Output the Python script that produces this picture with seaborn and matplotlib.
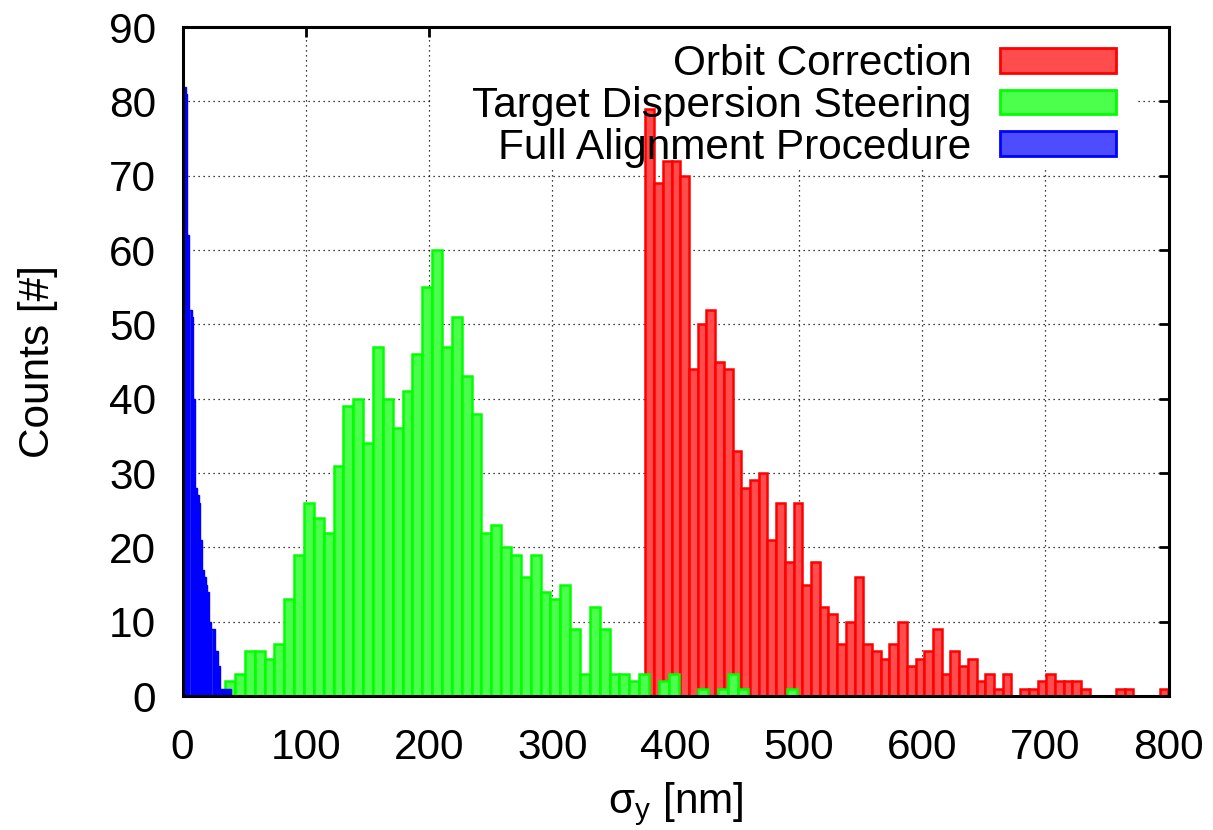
import numpy as np
import pandas as pd
import matplotlib
matplotlib.use("Agg")
import matplotlib.pyplot as plt
from matplotlib.patches import Patch, Rectangle
import seaborn as sns

# ---------------- data (bin counts) ----------------
series_labels = ["Orbit Correction", "Target Dispersion Steering", "Full Alignment Procedure"]

# Orbit Correction: 60 bins starting at 375.5 nm, width 7.07 nm
red_start, red_width = 375.5, 7.07
red_counts = [79, 69, 72, 72, 70, 44, 50, 52, 45, 44,
              33, 28, 29, 30, 21, 26, 18, 26, 15, 18,
              12, 11, 7, 10, 16, 7, 6, 5, 7, 10,
              4, 5, 6, 9, 3, 6, 4, 5, 2, 3,
              1, 3, 0, 1, 1, 2, 3, 2, 2, 2,
              1, 0, 0, 0, 1, 1, 0, 0, 0, 1]

# Target Dispersion Steering: bins of 8 nm starting at 34.5 nm
green_start, green_width = 34.5, 8.0
green_counts = [2, 3, 6, 6, 5, 7, 13, 19, 26, 24,
                22, 31, 39, 40, 34, 47, 40, 36, 41, 46,
                55, 60, 47, 51, 43, 38, 22, 23, 20, 19,
                16, 19, 14, 13, 15, 9, 3, 12, 9, 3,
                3, 2, 3, 0, 2, 3, 0, 0, 1, 0,
                1, 3, 1, 0, 0, 0, 0, 1]

# Full Alignment Procedure: narrow bins of 0.85 nm starting at 0.5 nm
blue_start, blue_width = 0.5, 0.85
blue_counts = [82, 82, 82, 81, 62, 62, 52, 52, 51, 40,
               40, 28, 28, 27, 27, 26, 21, 21, 17, 17,
               16, 16, 15, 14, 14, 10, 10, 9, 9, 9,
               6, 6, 6, 4, 4, 1, 1, 1, 1, 1,
               1, 1, 1, 1, 1, 1]

x_ticks = [0, 100, 200, 300, 400, 500, 600, 700, 800]
y_ticks = [0, 10, 20, 30, 40, 50, 60, 70, 80, 90]

face_colors = ["#FF4D4D", "#4DFF4D", "#4D4DFF"]
edge_colors = ["#FF0000", "#00FF00", "#0000FF"]

# ---------------- style ----------------
sns.set_theme(style="white")
plt.rcParams['font.family'] = ['Liberation Sans', 'DejaVu Sans']
plt.rcParams['mathtext.fontset'] = 'custom'
plt.rcParams['mathtext.rm'] = 'Liberation Sans'
plt.rcParams['mathtext.it'] = 'Liberation Sans'
for k in ['text.color', 'axes.labelcolor', 'xtick.color', 'ytick.color',
          'xtick.labelcolor', 'ytick.labelcolor', 'legend.labelcolor']:
    plt.rcParams[k] = 'black'

FS = 30.5

fig = plt.figure(figsize=(12.13, 8.3), dpi=100)
ax = fig.add_axes([0.1505, 0.1614, 0.8129, 0.806])


def draw_hist(start, width, counts, face, edge, lw, z):
    counts = [float(c) for c in counts]
    n = len(counts)
    edges = [start + width * i for i in range(n + 1)]
    centers = [start + width * (i + 0.5) for i in range(n)]
    df = pd.DataFrame({"x": centers, "w": counts})
    sns.histplot(data=df, x="x", weights="w", bins=edges, ax=ax,
                 element="bars", fill=True, facecolor=face, edgecolor=edge,
                 linewidth=lw, alpha=1, zorder=z)


draw_hist(red_start, red_width, red_counts, face_colors[0], edge_colors[0], 1.8, 3)
draw_hist(green_start, green_width, green_counts, face_colors[1], edge_colors[1], 1.8, 4)
draw_hist(blue_start, blue_width, blue_counts, face_colors[2], edge_colors[2], 1.0, 5)

ax.set_xlim(0, 800)
ax.set_ylim(0, 90)
ax.set_xticks(x_ticks)
ax.set_yticks(y_ticks)
ax.set_xticklabels([str(v) for v in x_ticks])
ax.set_yticklabels([str(v) for v in y_ticks])

ax.set_axisbelow(True)
ax.grid(True, color="black", linestyle=(0, (1, 3)), linewidth=0.9, zorder=0)

# key area clears the grid (as in the original)
ax.add_patch(Rectangle((0.2525, 0.79), 0.715, 0.21, transform=ax.transAxes,
                       facecolor="white", edgecolor="none", zorder=1))

for s in ax.spines.values():
    s.set_linewidth(2.2)
    s.set_color("black")
    s.set_zorder(10)

ax.tick_params(direction="in", length=7, width=2, top=True, right=True,
               labelsize=FS, colors="black", pad=19)
ax.tick_params(axis="x", pad=23)

ax.set_xlabel(r"$\mathregular{\sigma_y}$ [nm]", fontsize=FS, labelpad=9, color="black")
ax.set_ylabel("Counts [#]", fontsize=FS, labelpad=37, color="black")

handles = [Patch(facecolor=face_colors[i], edgecolor=edge_colors[i], linewidth=2,
                 label=series_labels[i]) for i in range(3)]
leg = ax.legend(handles=handles, loc="upper right", bbox_to_anchor=(0.955, 0.987),
                frameon=False, markerfirst=False, fontsize=FS,
                handlelength=2.74, handleheight=0.52, handletextpad=0.67,
                labelspacing=0.04, borderpad=0.2, borderaxespad=0)
leg.set_zorder(20)
for t in leg.get_texts():
    t.set_color("black")

fig.savefig("out.png", dpi=100)
